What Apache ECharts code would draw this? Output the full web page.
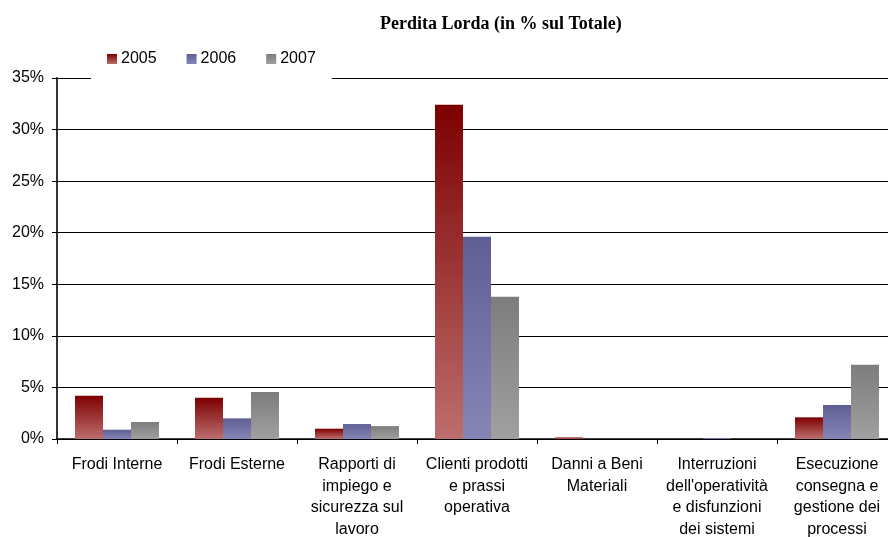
<!DOCTYPE html>
<html>
<head>
<meta charset="utf-8">
<script src="https://cdn.jsdelivr.net/npm/echarts@6/dist/echarts.min.js"></script>
<style>html,body{margin:0;padding:0;background:#fff;}#c{width:888px;height:537px;}</style>
</head>
<body>
<div id="c"></div>
<script>
var categories = [
  "Frodi Interne",
  "Frodi Esterne",
  "Rapporti di\nimpiego e\nsicurezza sul\nlavoro",
  "Clienti prodotti\ne prassi\noperativa",
  "Danni a Beni\nMateriali",
  "Interruzioni\ndell'operatività\ne disfunzioni\ndei sistemi",
  "Esecuzione\nconsegna e\ngestione dei\nprocessi"
];
var seriesNames = ["2005", "2006", "2007"];
var v2005 = [4.2, 4.0, 1.0, 32.4, 0.15, 0.0, 2.1];
var v2006 = [0.9, 2.0, 1.45, 19.6, 0.0, 0.1, 3.3];
var v2007 = [1.65, 4.55, 1.25, 13.8, 0.0, 0.0, 7.2];
var yTicks = [0, 5, 10, 15, 20, 25, 30, 35];

function grad(top, bottom) {
  return new echarts.graphic.LinearGradient(0, 0, 0, 1, [
    {offset: 0, color: top}, {offset: 1, color: bottom}
  ]);
}
var colors = [grad('#7d0000', '#bd6e6e'), grad('#5f5f95', '#8585b6'), grad('#7d7d7d', '#a0a0a0')];
var font = 'Liberation Sans, Arial, sans-serif';

var chart = echarts.init(document.getElementById('c'), null, {renderer: 'canvas'});
var data = [v2005, v2006, v2007];
chart.setOption({
  animation: false,
  title: {
    text: 'Perdita Lorda (in % sul Totale)',
    left: 380, top: 15, padding: 0,
    textStyle: {fontFamily: 'Liberation Serif, Times New Roman, serif', fontWeight: 'bold', fontSize: 18, color: '#000'}
  },
  legend: {
    left: 91, top: 34,
    padding: [17, 16, 25, 16],
    backgroundColor: '#fff',
    itemWidth: 10, itemHeight: 10, itemGap: 30,
    icon: 'rect',
    textStyle: {fontFamily: font, fontSize: 16, color: '#000', padding: [0, 0, 0, -1]},
    data: seriesNames
  },
  grid: {left: 57, right: -9, top: 78, bottom: 98, containLabel: false, outerBoundsMode: 'none'},
  xAxis: {
    type: 'category',
    data: categories,
    axisLine: {lineStyle: {color: '#000', width: 1.5}},
    axisTick: {show: true, length: 5, alignWithLabel: false, lineStyle: {color: '#000'}},
    axisLabel: {fontFamily: font, fontSize: 16, color: '#000', lineHeight: 21.5, margin: 15, interval: 0},
    splitLine: {show: false}
  },
  yAxis: {
    type: 'value',
    min: yTicks[0], max: yTicks[yTicks.length - 1], interval: 5,
    axisLine: {show: true, lineStyle: {color: '#333', width: 2}},
    axisTick: {show: true, length: 5, lineStyle: {color: '#000'}},
    axisLabel: {fontFamily: font, fontSize: 16, color: '#000', margin: 13, formatter: '{value}%'},
    splitLine: {show: true, lineStyle: {color: '#000', width: 1}}
  },
  series: seriesNames.map(function (n, i) {
    return {
      name: n, type: 'bar', data: data[i],
      barWidth: 28, barGap: '0%',
      itemStyle: {color: colors[i]}
    };
  })
});
</script>
</body>
</html>
